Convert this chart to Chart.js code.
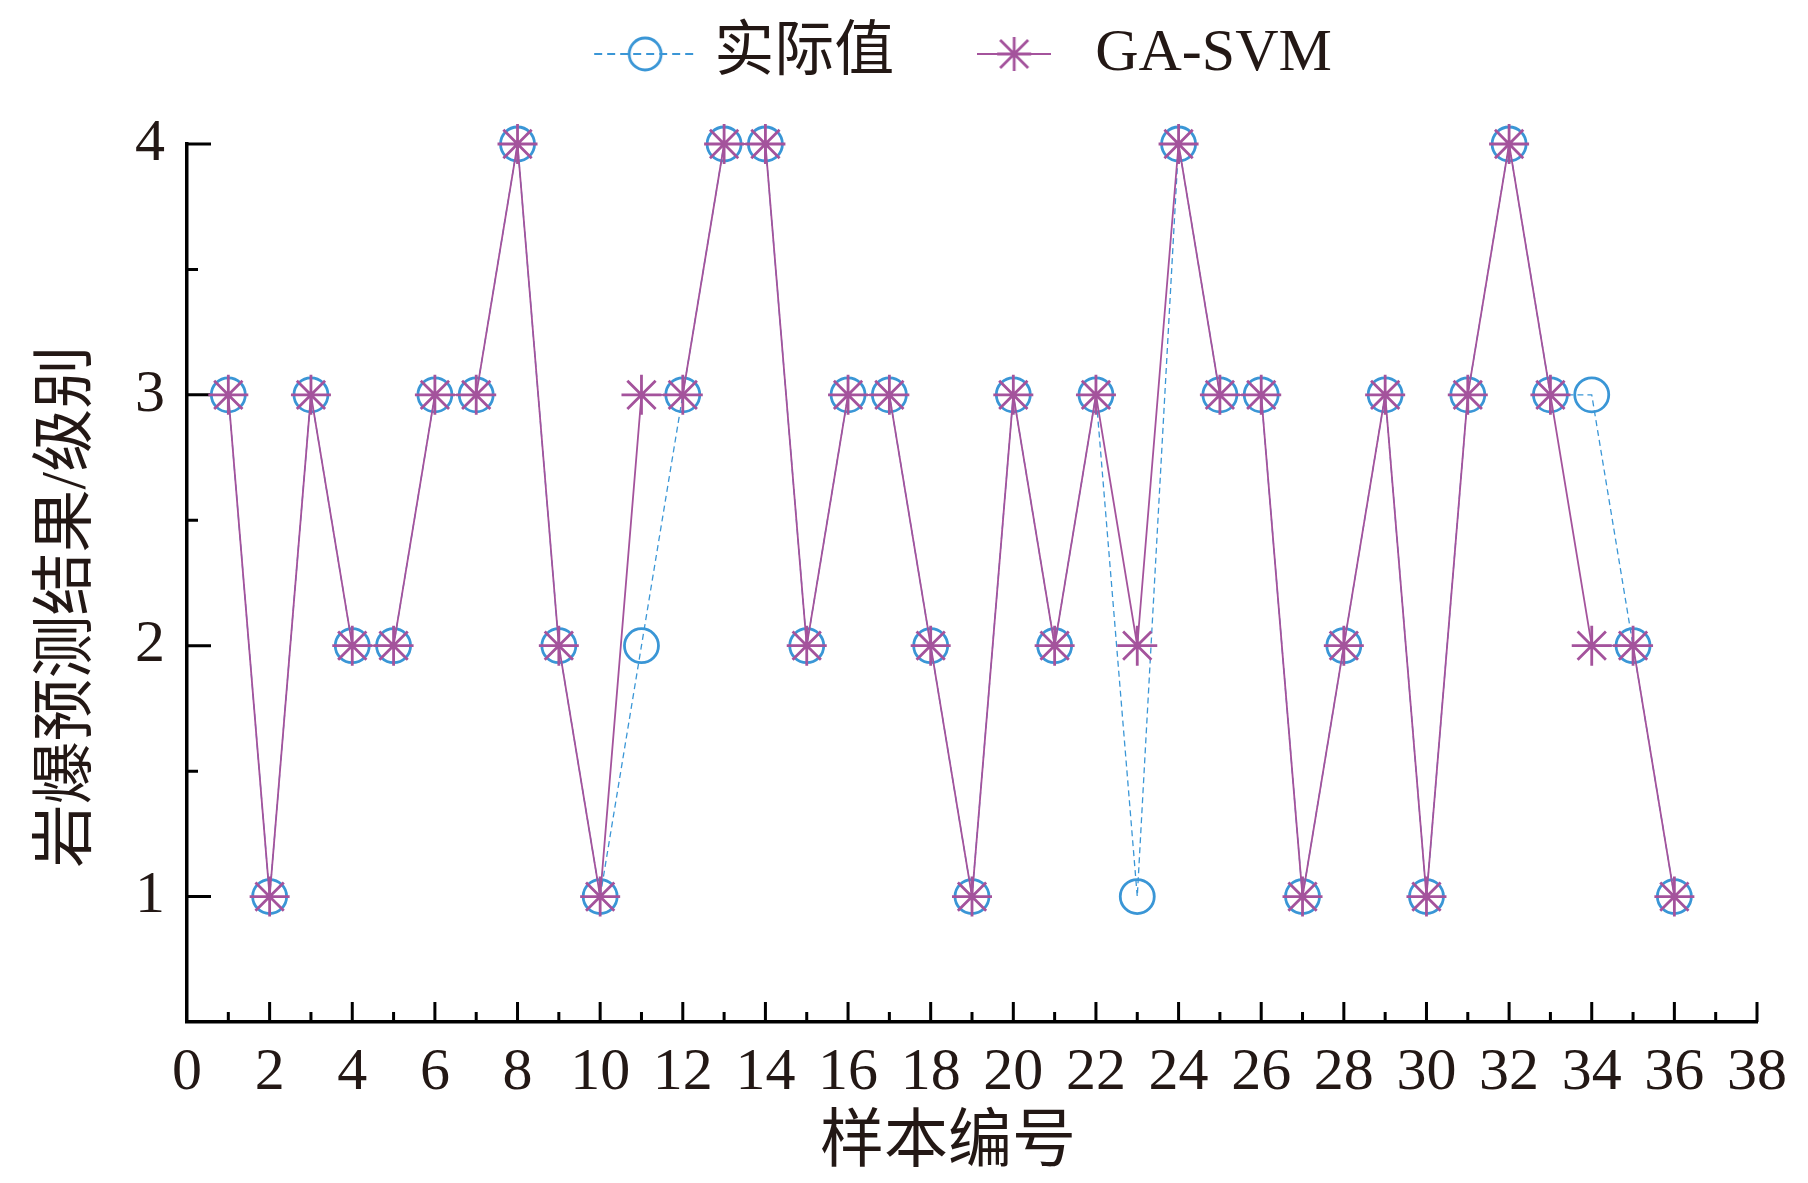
<!DOCTYPE html>
<html>
<head>
<meta charset="utf-8">
<script src="https://cdn.jsdelivr.net/npm/chart.js@4.4.1/dist/chart.umd.min.js"></script>
<style>
  html, body { margin: 0; background: #fff; }
</style>
</head>
<body>
<canvas id="chart" width="1808" height="1183"></canvas>
<script>
// sample numbers 1..36
const sampleIds = [1, 2, 3, 4, 5, 6, 7, 8, 9, 10, 11, 12, 13, 14, 15, 16, 17, 18,
                   19, 20, 21, 22, 23, 24, 25, 26, 27, 28, 29, 30, 31, 32, 33, 34, 35, 36];
// measured rockburst grade
const actualValues = [3, 1, 3, 2, 2, 3, 3, 4, 2, 1, 2, 3, 4, 4, 2, 3, 3, 2,
                      1, 3, 2, 3, 1, 4, 3, 3, 1, 2, 3, 1, 3, 4, 3, 3, 2, 1];
// GA-SVM predicted grade
const gaSvmValues = [3, 1, 3, 2, 2, 3, 3, 4, 2, 1, 3, 3, 4, 4, 2, 3, 3, 2,
                     1, 3, 2, 3, 2, 4, 3, 3, 1, 2, 3, 1, 3, 4, 3, 2, 2, 1];
const seriesNames = ['实际值', 'GA-SVM'];
const xRange = [0, 38];
const yRange = [0.5, 4];

const BLUE = '#3a96d6';
const PURPLE = '#a4539c';
const INK = '#231815';
const FONT = "'Liberation Serif', 'Noto Sans CJK SC', serif";

function toPoints(values) {
  return sampleIds.map((id, i) => ({x: id, y: values[i]}));
}

function makeIcon(w, h, draw) {
  const c = document.createElement('canvas');
  c.width = w;
  c.height = h;
  draw(c.getContext('2d'));
  return c;
}

// legend glyphs: line + marker
const actualIcon = makeIcon(126, 40, ctx => {
  ctx.strokeStyle = BLUE;
  ctx.lineWidth = 2;
  ctx.setLineDash([8, 5]);
  ctx.beginPath();
  ctx.moveTo(24, 20);
  ctx.lineTo(126, 20);
  ctx.stroke();
  ctx.setLineDash([]);
  ctx.lineWidth = 2.8;
  ctx.beginPath();
  ctx.arc(75, 20, 16, 0, Math.PI * 2);
  ctx.stroke();
});

const svmIcon = makeIcon(74, 40, ctx => {
  ctx.strokeStyle = PURPLE;
  ctx.lineWidth = 2;
  ctx.beginPath();
  ctx.moveTo(0, 20);
  ctx.lineTo(74, 20);
  ctx.stroke();
  ctx.lineWidth = 2.8;
  ctx.beginPath();
  ctx.moveTo(37, 3); ctx.lineTo(37, 37);
  ctx.moveTo(20, 20); ctx.lineTo(54, 20);
  ctx.moveTo(23, 6); ctx.lineTo(51, 34);
  ctx.moveTo(51, 6); ctx.lineTo(23, 34);
  ctx.stroke();
});
const legendIcons = [actualIcon, svmIcon];

// ticks drawn inward from the axes, long on labelled values
const innerTicks = {
  id: 'innerTicks',
  beforeDatasetsDraw(chart) {
    const {ctx, chartArea, scales: {x, y}} = chart;
    ctx.save();
    ctx.strokeStyle = '#000';
    ctx.lineWidth = 3;
    ctx.beginPath();
    x.ticks.forEach(t => {
      if (t.value === x.min) return;
      const px = x.getPixelForValue(t.value);
      const len = t.value % 2 === 0 ? 20 : 10;
      ctx.moveTo(px, chartArea.bottom);
      ctx.lineTo(px, chartArea.bottom - len);
    });
    y.ticks.forEach(t => {
      if (t.value === y.min) return;
      const py = y.getPixelForValue(t.value);
      const len = Number.isInteger(t.value) ? 24 : 11;
      ctx.moveTo(chartArea.left, py);
      ctx.lineTo(chartArea.left + len, py);
    });
    ctx.stroke();
    ctx.restore();
  }
};

new Chart(document.getElementById('chart'), {
  type: 'line',
  data: {
    datasets: [
      {
        label: seriesNames[0] + '   ',
        data: toPoints(actualValues),
        borderColor: BLUE,
        borderWidth: 1.3,
        borderDash: [6, 4],
        pointStyle: 'circle',
        pointRadius: 17,
        pointBorderWidth: 2.8,
        pointBorderColor: BLUE,
        pointBackgroundColor: 'rgba(0,0,0,0)',
        fill: false,
        clip: false,
        order: 2
      },
      {
        label: seriesNames[1] + '  ',
        data: toPoints(gaSvmValues),
        borderColor: PURPLE,
        borderWidth: 1.8,
        pointStyle: 'star',
        pointRadius: 20,
        pointBorderWidth: 2.8,
        pointBorderColor: PURPLE,
        pointBackgroundColor: PURPLE,
        fill: false,
        clip: false,
        order: 1
      }
    ]
  },
  options: {
    responsive: false,
    animation: false,
    layout: { padding: { top: 0, right: 51, bottom: 0, left: 0 } },
    plugins: {
      tooltip: { enabled: false },
      legend: {
        position: 'top',
        fullSize: false,
        labels: {
          usePointStyle: true,
          pointStyleWidth: 102,
          padding: 24,
          color: INK,
          font: { family: FONT, size: 60 },
          generateLabels(chart) {
            const items = Chart.defaults.plugins.legend.labels.generateLabels(chart);
            items.sort((a, b) => a.datasetIndex - b.datasetIndex);
            items.forEach(item => {
              item.pointStyle = legendIcons[item.datasetIndex];
              item.fontColor = INK;
            });
            return items;
          }
        }
      },
      // blank spacer between legend and plot
      title: {
        display: true,
        text: ' ',
        position: 'top',
        fullSize: false,
        weight: 500,
        font: { size: 10, lineHeight: 1 },
        padding: { top: 40, bottom: 0 }
      }
    },
    scales: {
      x: {
        type: 'linear',
        position: 'bottom',
        min: xRange[0],
        max: xRange[1],
        afterFit(scale) { scale.height = 161; },
        ticks: {
          stepSize: 1,
          autoSkip: false,
          maxRotation: 0,
          padding: 15,
          color: INK,
          font: { family: FONT, size: 60 },
          callback: v => (v % 2 === 0 ? String(v) : '')
        },
        grid: { display: true, drawOnChartArea: false, drawTicks: false },
        border: { display: true, color: '#000', width: 3.5 },
        title: {
          display: true,
          text: '样本编号   ',
          color: INK,
          font: { family: FONT, size: 64, lineHeight: 1.2 },
          padding: { top: 0, bottom: 0 }
        }
      },
      y: {
        type: 'linear',
        position: 'left',
        min: yRange[0],
        max: yRange[1],
        afterFit(scale) { scale.width = 187; },
        ticks: {
          stepSize: 0.5,
          autoSkip: false,
          padding: 22,
          color: INK,
          font: { family: FONT, size: 60 },
          callback: v => (Number.isInteger(v) ? String(v) : '')
        },
        grid: { display: true, drawOnChartArea: false, drawTicks: false },
        border: { display: true, color: '#000', width: 3.5 },
        title: {
          display: true,
          text: '岩爆预测结果/级别   ',
          color: INK,
          font: { family: FONT, size: 63, lineHeight: 1.2 },
          padding: { top: 31, bottom: 0 }
        }
      }
    }
  },
  plugins: [innerTicks]
});
</script>
</body>
</html>
